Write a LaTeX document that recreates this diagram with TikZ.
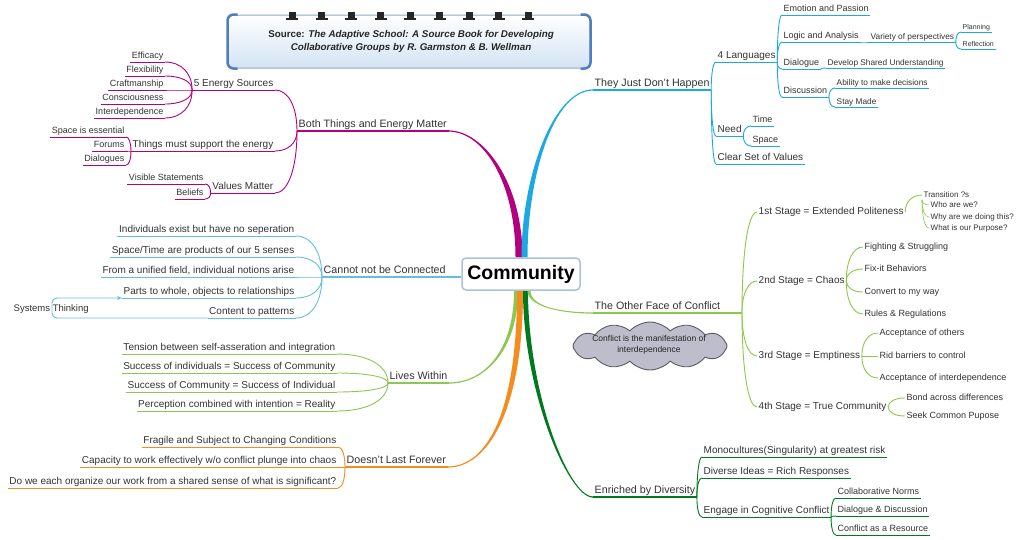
\documentclass[tikz,border=0pt]{standalone}
\usepackage{fontspec}
\setmainfont{Liberation Sans}
\usetikzlibrary{calc,shapes.symbols,arrows.meta,backgrounds}
\definecolor{txtc}{HTML}{333333}
\definecolor{mg}{HTML}{B4007F}
\definecolor{cy}{HTML}{1CA9E1}
\definecolor{lb}{HTML}{62BFE0}
\definecolor{lg}{HTML}{8DC753}
\definecolor{og}{HTML}{8CC84B}
\definecolor{orc}{HTML}{F58C1E}
\definecolor{dg}{HTML}{007A1E}
\definecolor{cloudf}{HTML}{BDBDCB}
\definecolor{cloudd}{HTML}{5A5A66}
\definecolor{cbox}{HTML}{A7C3DE}
\definecolor{bnl}{HTML}{8EAACB}
\definecolor{bne}{HTML}{4F7DBE}
\definecolor{bnf}{HTML}{D3E3F4}
\newcommand\myfa{\fontsize{10.7}{12}\selectfont}
\newcommand\myfb{\fontsize{10}{12}\selectfont}
\newcommand\myfc{\fontsize{9}{11}\selectfont}
\newcommand\myfd{\fontsize{8.3}{10}\selectfont}
\newcommand\myfe{\fontsize{7}{8.5}\selectfont}
\newcommand\myff{\fontsize{8}{9.5}\selectfont}
\newcommand\myfst{\fontsize{9.5}{11}\selectfont}
\newcommand\myfcl{\fontsize{8.5}{10.5}\selectfont}
\newcommand\myfcom{\fontsize{19.5}{22}\bfseries\selectfont}
\newcommand\myfbn{\fontsize{9.8}{13}\bfseries\selectfont}
\tikzset{
  tx/.style={inner xsep=1.5pt, inner ysep=1pt, text=txtc},
  La/.style={tx, font=\myfa, text height=7.7pt, text depth=2.2pt},
  Lb/.style={tx, font=\myfb, text height=7.2pt, text depth=2.1pt},
  Lc/.style={tx, font=\myfc, text height=6.5pt, text depth=1.9pt},
  Ld/.style={tx, font=\myfd, text height=6pt, text depth=1.75pt},
  Le/.style={tx, font=\myfe, text height=5pt, text depth=1.5pt},
  Lf/.style={tx, font=\myff, text height=5.8pt, text depth=1.7pt},
  ul/.style={append after command={(\tikzlastnode.south west) edge[draw=#1, line width=0.9pt] (\tikzlastnode.south east)}},
  ulb/.style={append after command={(\tikzlastnode.south west) edge[draw=#1, line width=1.3pt] (\tikzlastnode.south east)}},
  lnk/.style={draw=#1, line width=0.9pt},
  mmarc/.style={to path={.. controls ($(\tikztostart)!0.6!(\tikztostart|-\tikztotarget)$) and ($(\tikztotarget)!0.6!(\tikztostart|-\tikztotarget)$) .. (\tikztotarget) \tikztonodes}},
}
\begin{document}
\begin{tikzpicture}[x=1pt,y=-1pt]
\useasboundingbox (0,0) rectangle (1024,539);

% ---------- banner ----------
\node[draw=bnl, line width=1pt, rounded corners=6pt, top color=white, bottom color=bnf, minimum width=362pt, minimum height=53pt, inner sep=0pt] (bn) at (409,41.5) {};
\draw[bne, line width=2.5pt, rounded corners=6pt] ([xshift=10pt]bn.north west) -- (bn.north west) -- (bn.south west) -- ([xshift=10pt]bn.south west);
\draw[bne, line width=2.5pt, rounded corners=6pt] ([xshift=-10pt]bn.north east) -- (bn.north east) -- (bn.south east) -- ([xshift=-10pt]bn.south east);
\foreach \i in {0,...,8} {
  \fill[black!85] ({292+29.5*\i-3.5},12) rectangle ++(7,6);
  \fill[black!85] ({292+29.5*\i-6},17.5) rectangle ++(12,2.5);
}
\node[font=\myfbn, text=black!85, align=center, inner sep=0pt] (bnt) at (411,41) {Source: \textit{The Adaptive School: A Source Book for Developing}\\\textit{Collaborative Groups by R. Garmston \& B. Wellman}};

% ---------- centre ----------
\node[draw=cbox, line width=1.5pt, fill=white, rounded corners=4pt, minimum width=118pt, minimum height=32pt, inner sep=0pt, font=\myfcom, text=black] (C) at (521,274) {Community};

% ---------- Both Things and Energy Matter ----------
\node[La, ulb=mg, anchor=south west] (both) at (297,131) {Both Things and Energy Matter};
\node[Lb, ul=mg, anchor=south east] (es) at (275,90) {5 Energy Sources};
\node[Lc, ul=mg, anchor=south east] (eff) at (165,62) {Efficacy};
\node[Lc, ul=mg, anchor=south east] (flex) at (165,76) {Flexibility};
\node[Lc, ul=mg, anchor=south east] (craft) at (165,90) {Craftmanship};
\node[Lc, ul=mg, anchor=south east] (cons) at (165,104) {Consciousness};
\node[Lc, ul=mg, anchor=south east] (inter) at (165,118) {Interdependence};
\node[Lb, ul=mg, anchor=south east] (things) at (275,151) {Things must support the energy};
\node[Lc, ul=mg, anchor=south east] (sie) at (126,137) {Space is essential};
\node[Lc, ul=mg, anchor=south east] (forums) at (126,151) {Forums};
\node[Lc, ul=mg, anchor=south east] (dlgs) at (126,165) {Dialogues};
\node[Lb, ul=mg, anchor=south east] (vm) at (275,193) {Values Matter};
\node[Lc, ul=mg, anchor=south east] (vis) at (205,184) {Visible Statements};
\node[Lc, ul=mg, anchor=south east] (bel) at (205,199) {Beliefs};

% ---------- They Just Don't Happen ----------
\node[La, ulb=cy, anchor=south west] (they) at (593,90) {They Just Don't Happen};
\node[Lb, ul=cy, anchor=south west] (lang) at (716,62) {4 Languages};
\node[Lc, ul=cy, anchor=south west] (emo) at (782,15) {Emotion and Passion};
\node[Lc, ul=cy, anchor=south west] (logic) at (782,42) {Logic and Analysis};
\node[Ld, ul=cy, anchor=south west] (var) at (869,42) {Variety of perspectives};
\node[Le, ul=cy, anchor=south west] (plan) at (961,32) {Planning};
\node[Le, ul=cy, anchor=south west] (refl) at (961,49) {Reflection};
\node[Lc, ul=cy, anchor=south west] (dlg) at (782,69) {Dialogue};
\node[Ld, ul=cy, anchor=south west] (dsu) at (826,68) {Develop Shared Understanding};
\node[Lc, ul=cy, anchor=south west] (disc) at (782,97) {Discussion};
\node[Ld, ul=cy, anchor=south west] (abil) at (835,88) {Ability to make decisions};
\node[Ld, ul=cy, anchor=south west] (stay) at (835,107) {Stay Made};
\node[Lb, ul=cy, anchor=south west] (need) at (716,136) {Need};
\node[Lc, ul=cy, anchor=south west] (time) at (751,126) {Time};
\node[Lc, ul=cy, anchor=south west] (space) at (751,146) {Space};
\node[Lb, ul=cy, anchor=south west] (csv) at (716,164) {Clear Set of Values};

% ---------- Cannot not be Connected ----------
\node[La, ulb=lb, anchor=south west] (cn) at (322,277) {Cannot not be Connected};
\node[Lb, ul=lb, anchor=south east] (ind) at (296,236) {Individuals exist but have no seperation};
\node[Lb, ul=lb, anchor=south east] (spt) at (296,257) {Space/Time are products of our 5 senses};
\node[Lb, ul=lb, anchor=south east] (uf) at (296,277) {From a unified field, individual notions arise};
\node[Lb, ul=lb, anchor=south east] (ptw) at (296,298) {Parts to whole, objects to relationships};
\node[Lb, ul=lb, anchor=south east] (ctp) at (296,318) {Content to patterns};
\node[tx, font=\myfst, anchor=west] (st) at (12,309) {Systems Thinking};
\coordinate (stj) at (52,308);

% ---------- Lives Within ----------
\node[La, ulb=lg, anchor=south west] (lw) at (388,383) {Lives Within};
\node[Lb, ul=lg, anchor=south east] (tens) at (337,354) {Tension between self-asseration and integration};
\node[Lb, ul=lg, anchor=south east] (soi) at (337,373) {Success of individuals = Success of Community};
\node[Lb, ul=lg, anchor=south east] (soc) at (337,392) {Success of Community = Success of Individual};
\node[Lb, ul=lg, anchor=south east] (perc) at (337,411) {Perception combined with intention = Reality};

% ---------- Doesn't Last Forever ----------
\node[La, ulb=orc, anchor=south west] (dlf) at (345,467) {Doesn't Last Forever};
\node[Lb, ul=orc, anchor=south east] (frag) at (338,447) {Fragile and Subject to Changing Conditions};
\node[Lb, ul=orc, anchor=south east] (cap) at (338,467) {Capacity to work effectively w/o conflict plunge into chaos};
\node[Lb, ul=orc, anchor=south east] (dwe) at (338,488) {Do we each organize our work from a shared sense of what is significant?};

% ---------- The Other Face of Conflict ----------
\node[La, anchor=south west] (ofc) at (593,313) {The Other Face of Conflict};
\coordinate (ofcj) at (742,313);
\node[Lb, anchor=west] (s1) at (757,212) {1st Stage = Extended Politeness};
\node[Lf, anchor=west] (tr) at (922,195) {Transition ?s};
\node[Lf, anchor=west] (who) at (929,205) {Who are we?};
\node[Lf, anchor=west] (why) at (929,217) {Why are we doing this?};
\node[Lf, anchor=west] (what) at (929,228) {What is our Purpose?};
\node[Lb, anchor=west] (s2) at (757,281) {2nd Stage = Chaos};
\node[Lc, anchor=west] (fight) at (863,247) {Fighting \& Struggling};
\node[Lc, anchor=west] (fix) at (863,269) {Fix-it Behaviors};
\node[Lc, anchor=west] (conv) at (863,292) {Convert to my way};
\node[Lc, anchor=west] (rules) at (863,314) {Rules \& Regulations};
\node[Lb, anchor=west] (s3) at (757,356) {3rd Stage = Emptiness};
\node[Lc, anchor=west] (acc) at (878,333) {Acceptance of others};
\node[Lc, anchor=west] (rid) at (878,356) {Rid barriers to control};
\node[Lc, anchor=west] (acci) at (878,378) {Acceptance of interdependence};
\node[Lb, anchor=west] (s4) at (757,407) {4th Stage = True Community};
\node[Lc, anchor=west] (bond) at (905,398) {Bond across differences};
\node[Lc, anchor=west] (seek) at (905,416) {Seek Common Pupose};
\node[cloud, cloud puffs=12, cloud puff arc=95, aspect=3.3, draw=cloudd, fill=cloudf, line width=0.9pt, minimum width=154pt, minimum height=48pt, inner sep=0pt] (cl) at (650,346) {};
\node[font=\myfcl, text=black!85, align=center, inner sep=0pt] (clt) at (649,345) {Conflict is the manifestation of\\interdependence};

% ---------- Enriched by Diversity ----------
\node[La, ulb=dg, anchor=south west] (ebd) at (593,497) {Enriched by Diversity};
\node[Lb, ul=dg, anchor=south west] (mono) at (702,457) {Monocultures(Singularity) at greatest risk};
\node[Lb, ul=dg, anchor=south west] (div) at (702,478) {Diverse Ideas = Rich Responses};
\node[Lb, ul=dg, anchor=south west] (eng) at (702,517) {Engage in Cognitive Conflict};
\node[Lc, ul=dg, anchor=south west] (coll) at (836,498) {Collaborative Norms};
\node[Lc, ul=dg, anchor=south west] (ddisc) at (836,516) {Dialogue \& Discussion};
\node[Lc, ul=dg, anchor=south west] (car) at (836,535) {Conflict as a Resource};

% ---------- main branches ----------
\begin{pgfonlayer}{background}
\fill[white] (0,0) rectangle (1024,539);
\fill[mg] ([xshift=-5.5pt]C.north) .. controls +(0,-75) and +(35,0) .. ([yshift=-0.6pt]both.south east) -- ([yshift=0.6pt]both.south east) .. controls +(35,0) and +(0,-75) .. ([xshift=1.5pt]C.north) -- cycle;
\fill[cy] ([xshift=0.5pt]C.north) .. controls +(0,-80) and +(-40,0) .. ([yshift=0.6pt]they.south west) -- ([yshift=-0.6pt]they.south west) .. controls +(-40,0) and +(0,-80) .. ([xshift=6.5pt]C.north) -- cycle;
\fill[lg] ([xshift=-3pt]C.south) .. controls +(0,60) and +(35,0) .. ([yshift=-0.6pt]lw.south east) -- ([yshift=0.6pt]lw.south east) .. controls +(35,0) and +(0,60) .. ([xshift=-7pt]C.south) -- cycle;
\fill[orc] ([xshift=2pt]C.south) .. controls +(0,120) and +(40,0) .. ([yshift=-0.6pt]dlf.south east) -- ([yshift=0.6pt]dlf.south east) .. controls +(40,0) and +(0,120) .. ([xshift=-4pt]C.south) -- cycle;
\fill[dg] ([xshift=7pt]C.south) .. controls +(0,100) and +(-25,0) .. ([yshift=0.6pt]ebd.south west) -- ([yshift=-0.6pt]ebd.south west) .. controls +(-25,0) and +(0,100) .. ([xshift=2pt]C.south) -- cycle;
\fill[og] ([xshift=9.5pt]C.south) .. controls +(0,15) and +(-35,0) .. ([yshift=0.6pt]ofc.south west) -- ([yshift=-0.6pt]ofc.south west) .. controls +(-35,0) and +(0,15) .. ([xshift=6.5pt]C.south) -- cycle;
\draw[lb, line width=1.5pt] (cn.south east) -- (C.west |- cn.south east);
\draw[og, line width=1.3pt] (ofc.south west) -- (ofcj);
\end{pgfonlayer}

% ---------- sub connectors ----------
\foreach \n in {es,things,vm} \draw[lnk=mg] (both.south west) to[mmarc] (\n.south east);
\foreach \n in {eff,flex,craft,cons,inter} \draw[lnk=mg] (es.south west) to[mmarc] (\n.south east);
\foreach \n in {sie,forums,dlgs} \draw[lnk=mg] (things.south west) to[mmarc] (\n.south east);
\foreach \n in {vis,bel} \draw[lnk=mg] (vm.south west) to[mmarc] (\n.south east);

\foreach \n in {lang,need,csv} \draw[lnk=cy] (they.south east) to[mmarc] (\n.south west);
\foreach \n in {emo,logic,dlg,disc} \draw[lnk=cy] (lang.south east) to[mmarc] (\n.south west);
\draw[lnk=cy] (logic.south east) to[mmarc] (var.south west);
\foreach \n in {plan,refl} \draw[lnk=cy] (var.south east) to[mmarc] (\n.south west);
\draw[lnk=cy] (dlg.south east) to[mmarc] (dsu.south west);
\foreach \n in {abil,stay} \draw[lnk=cy] (disc.south east) to[mmarc] (\n.south west);
\foreach \n in {time,space} \draw[lnk=cy] (need.south east) to[mmarc] (\n.south west);

\foreach \n in {ind,spt,uf,ptw,ctp} \draw[lnk=lb] (cn.south west) to[mmarc] (\n.south east);
\draw[lb, line width=0.9pt, rounded corners=5pt, -{Stealth[length=5pt,width=4pt]}] (ctp.south west) -| (stj) |- (ptw.south west);

\foreach \n in {tens,soi,soc,perc} \draw[lnk=lg] (lw.south west) to[mmarc] (\n.south east);
\foreach \n in {frag,cap,dwe} \draw[lnk=orc] (dlf.south west) to[mmarc] (\n.south east);

\foreach \n in {s1,s2,s3,s4} \draw[lnk=og] (ofcj) to[mmarc] (\n.west);
\draw[lnk=og] (s1.east) to[mmarc] (tr.west);
\foreach \n in {who,why,what} \draw[lnk=og, line width=0.6pt] (tr.south west) to[mmarc] (\n.west);
\foreach \n in {fight,fix,conv,rules} \draw[lnk=og] (s2.east) to[mmarc] (\n.west);
\foreach \n in {acc,rid,acci} \draw[lnk=og] (s3.east) to[mmarc] (\n.west);
\foreach \n in {bond,seek} \draw[lnk=og] (s4.east) to[mmarc] (\n.west);

\foreach \n in {mono,div,eng} \draw[lnk=dg] (ebd.south east) to[mmarc] (\n.south west);
\foreach \n in {coll,ddisc,car} \draw[lnk=dg] (eng.south east) to[mmarc] (\n.south west);
\end{tikzpicture}
\end{document}
